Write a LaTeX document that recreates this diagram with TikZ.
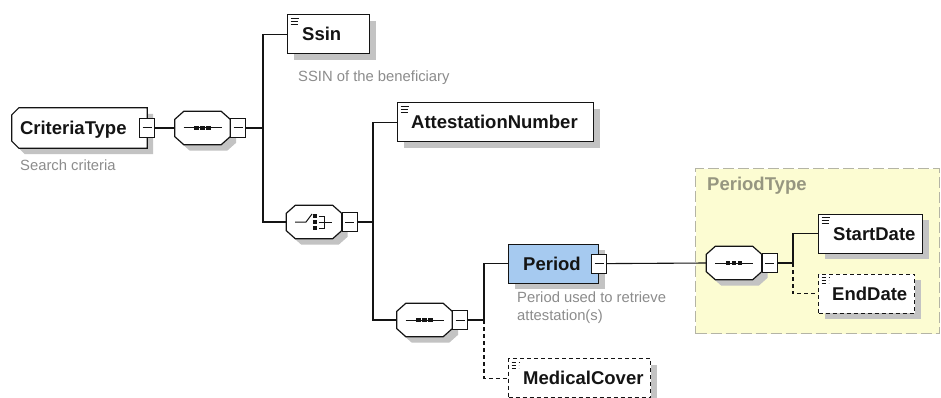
\documentclass[tikz,border=0pt]{standalone}
\usepackage{fontspec}
\setmainfont{Liberation Sans}
\usetikzlibrary{calc}

\definecolor{periodblue}{RGB}{166,202,240}
\definecolor{typeyellow}{RGB}{252,252,210}
\definecolor{typeborder}{RGB}{180,180,165}
\definecolor{doctext}{RGB}{140,140,140}
\definecolor{typelabel}{RGB}{150,150,128}
\definecolor{shadowgray}{RGB}{195,195,195}
\definecolor{ink}{RGB}{20,20,20}

\tikzset{
  conn/.style={draw=ink, line width=1.1pt},
  optconn/.style={conn, dash pattern=on 4pt off 3pt},
  shadowrect/.style={preaction={fill=shadowgray, draw=none, transform canvas={shift={(6pt,-6pt)}}}},
  elemicon/.style={path picture={
      \draw[ink, line width=0.9pt]
        ([shift={(3pt,-3.5pt)}]path picture bounding box.north west) -- ++(8pt,0pt)
        ([shift={(3pt,-6.5pt)}]path picture bounding box.north west) -- ++(7pt,0pt)
        ([shift={(3pt,-9.5pt)}]path picture bounding box.north west) -- ++(7pt,0pt);}},
  plainbox/.style={draw=ink, line width=1.2pt, fill=white, inner sep=0pt,
      minimum height=39pt, anchor=north west, shadowrect},
  elembox/.style={plainbox, elemicon},
  optbox/.style={elembox, dash pattern=on 4pt off 3pt},
  elemtext/.style={font=\fontsize{18.5}{20}\selectfont\bfseries, text=ink, inner sep=0pt, anchor=base west},
  doctext/.style={font=\fontsize{14.8}{17.5}\selectfont, text=doctext, inner sep=0pt},
  compbox/.style={inner sep=0pt, minimum width=55pt, minimum height=33pt},
  compline/.style={draw=ink, line width=1.2pt, fill=white},
  minusbox/.style={draw=ink, line width=1pt, fill=white, inner sep=0pt,
      minimum width=15pt, minimum height=19pt,
      path picture={\draw[ink, line width=1pt]
        ([xshift=-4.5pt]path picture bounding box.center) -- ([xshift=4.5pt]path picture bounding box.center);}},
  typebox/.style={draw=typeborder, fill=typeyellow, line width=1.3pt, dash pattern=on 11pt off 4pt,
      inner sep=0pt, anchor=north west},
  typelbl/.style={font=\fontsize{18.5}{20}\selectfont\bfseries, text=typelabel, inner sep=0pt, anchor=base west},
  seqicon/.pic={
    \draw[ink, line width=1pt] (-19,0) -- (19,0);
    \foreach \dx in {-6,0,6} \fill[ink] (\dx-2.2,-2.2) rectangle (\dx+2.2,2.2);
  },
  choiceicon/.pic={
    \draw[ink, line width=1pt] (-19,0) -- (-8,0) -- (-2,-8);
    \foreach \dy in {-6,0,6} \fill[ink] (-0.8,\dy-1.8) rectangle (2.8,\dy+1.8);
    \draw[ink, line width=1pt] (4.5,-6) -- (10,-6) -- (10,6) -- (4.5,6) (4.5,0) -- (18,0);
  },
}

% octagonal outline (with its shadow) round a sequence or choice node
\newcommand\drawcomp[1]{%
  \fill[shadowgray] ($(#1.north west)+(15,6)$) -- ($(#1.north east)+(-3,6)$)
    -- ($(#1.north east)+(6,14)$) -- ($(#1.south east)+(6,-2)$)
    -- ($(#1.south east)+(-3,6)$) -- ($(#1.south west)+(15,6)$)
    -- ($(#1.south west)+(6,-2)$) -- ($(#1.north west)+(6,14)$) -- cycle;
  \draw[compline] ($(#1.north west)+(9,0)$) -- ($(#1.north east)+(-9,0)$)
    -- ($(#1.north east)+(0,8)$) -- ($(#1.south east)+(0,-8)$)
    -- ($(#1.south east)+(-9,0)$) -- ($(#1.south west)+(9,0)$)
    -- ($(#1.south west)+(0,-8)$) -- ($(#1.north west)+(0,8)$) -- cycle;}

\begin{document}
\begin{tikzpicture}[x=1pt,y=-1pt]
\useasboundingbox[fill=white] (0,0) rectangle (941,398);

% frame of the PeriodType complex type
\node[typebox, minimum width=244pt, minimum height=165pt] (ptype) at (695,168) {};
\node[typelbl] (ptypelbl) at (707,190.5) {PeriodType};

% root complex type, left corners cut
\node[inner sep=0pt, minimum width=135pt, minimum height=40pt] (crit) at (79.5,128) {};
\fill[shadowgray] ($(crit.north west)+(13,6)$) -- ($(crit.north east)+(6,6)$)
  -- ($(crit.south east)+(6,6)$) -- ($(crit.south west)+(13,6)$)
  -- ($(crit.south west)+(6,-1)$) -- ($(crit.north west)+(6,13)$) -- cycle;
\draw[compline] ($(crit.north west)+(7,0)$) -- (crit.north east) -- (crit.south east)
  -- ($(crit.south west)+(7,0)$) -- ($(crit.south west)+(0,-7)$)
  -- ($(crit.north west)+(0,7)$) -- cycle;
\node[elemtext] (critt) at ([xshift=8pt,yshift=-6.5pt]crit.west) {CriteriaType};
\node[minusbox] (critm) at (crit.east) {};
\node[doctext, anchor=base west] (critdoc) at (20,171) {Search criteria};

% top-level sequence
\node[compbox] (seq1) at (202.5,128) {};
\drawcomp{seq1}
\pic at (seq1.center) {seqicon};
\node[minusbox, anchor=west] (seq1m) at (seq1.east) {};

% Ssin
\node[elembox, minimum width=82pt] (ssin) at (287,14) {};
\node[elemtext] (ssint) at ([xshift=15pt,yshift=-6.5pt]ssin.west) {Ssin};
\node[doctext, anchor=base west] (ssindoc) at (298,82) {SSIN of the beneficiary};

% choice
\node[compbox] (ch) at (314,222) {};
\drawcomp{ch}
\pic at (ch.center) {choiceicon};
\node[minusbox, anchor=west] (chm) at (ch.east) {};

% AttestationNumber
\node[elembox, minimum width=196pt] (att) at (397,102) {};
\node[elemtext] (attt) at ([xshift=14pt,yshift=-6.5pt]att.west) {AttestationNumber};

% inner sequence
\node[compbox] (seq2) at (424.5,320) {};
\drawcomp{seq2}
\pic at (seq2.center) {seqicon};
\node[minusbox, anchor=west] (seq2m) at (seq2.east) {};

% Period
\node[plainbox, fill=periodblue, minimum width=90pt] (per) at (508,243.5) {};
\node[elemtext] (pert) at ([xshift=15pt,yshift=-6.5pt]per.west) {Period};
\node[minusbox] (perm) at (per.east) {};
\node[doctext, anchor=north west, align=left] (perdoc) at (517,292) {Period used to retrieve\\attestation(s)};

% MedicalCover (optional)
\node[optbox, minimum width=142pt] (med) at (508,358) {};
\node[elemtext] (medt) at ([xshift=15pt,yshift=-6.5pt]med.west) {MedicalCover};

% PeriodType content
\node[compbox] (seq3) at (734,263) {};
\drawcomp{seq3}
\pic at (seq3.center) {seqicon};
\node[minusbox, anchor=west] (seq3m) at (seq3.east) {};

\node[elembox, minimum width=104pt] (sd) at (818,213.5) {};
\node[elemtext] (sdt) at ([xshift=15pt,yshift=-6.5pt]sd.west) {StartDate};

\node[optbox, minimum width=96pt] (ed) at (818,273.5) {};
\node[elemtext] (edt) at ([xshift=14pt,yshift=-6.5pt]ed.west) {EndDate};

% connectors
\coordinate (j1) at (263,128);
\draw[conn] (critm.east) -- (seq1.west);
\draw[conn] (seq1m.east) -- (j1);
\draw[conn] (ssin.west) -| (j1) |- (ch.west);

\coordinate (j2) at (373,222);
\draw[conn] (chm.east) -- (j2);
\draw[conn] (att.west) -| (j2) |- (seq2.west);

\coordinate (j3) at (484,320);
\draw[conn] (seq2m.east) -- (j3);
\draw[conn] (per.west) -| (j3);
\draw[optconn] (j3) |- (med.west);

\draw[conn] (perm.east) -- (seq3.west);
\coordinate (j4) at (793,263);
\draw[conn] (seq3m.east) -- (j4);
\draw[conn] (sd.west) -| (j4);
\draw[optconn] (j4) |- (ed.west);
\end{tikzpicture}
\end{document}
